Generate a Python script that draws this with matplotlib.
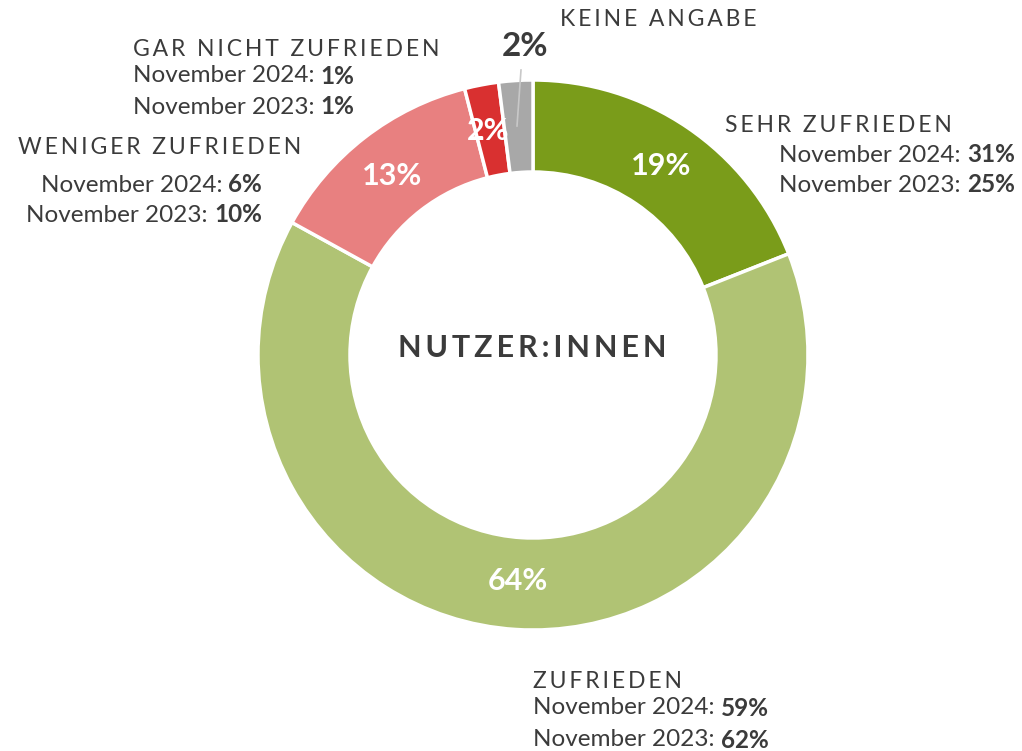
import matplotlib
matplotlib.use("Agg")
import matplotlib.pyplot as plt

categories = ["SEHR ZUFRIEDEN", "ZUFRIEDEN", "WENIGER ZUFRIEDEN", "GAR NICHT ZUFRIEDEN", "KEINE ANGABE"]
values = [19, 64, 13, 2, 2]
nov2024 = [31, 59, 6, 1, None]
nov2023 = [25, 62, 10, 1, None]
colors = ["#7a9c1a", "#b0c374", "#e88080", "#d93030", "#a8a8a8"]
center_label = "NUTZER:INNEN"

W, H = 1022, 751
fig = plt.figure(figsize=(W / 100, H / 100), dpi=100)
ax = fig.add_axes([0, 0, 1, 1])

FAM = ["Lato", "DejaVu Sans"]
DARK = "#3b3b3b"
cx, cy = 533, H - 355
R = 275
width = 92

wedges, _ = ax.pie(values, colors=colors, startangle=90, counterclock=False,
                   radius=R, center=(cx, cy),
                   wedgeprops=dict(width=width, edgecolor="white", linewidth=2.5),
                   frame=True)
ax.set_xlim(0, W)
ax.set_ylim(0, H)
ax.set_aspect("equal")
ax.axis("off")

def px(x, y):
    return x, H - y

def spaced(s, sp="\u2009"):
    return " ".join(sp.join(w) for w in s.split(" ")).replace(" ", sp + " " + sp)

# percentage labels inside
inside_pos = [(661, 166), (518, 581), (392, 176), (488, 131)]
for (x, y), v in zip(inside_pos, values[:4]):
    ax.text(*px(x, y), f"{v}%", color="white", fontsize=22, family=FAM,
            fontweight="bold", ha="center", va="center")

# keine angabe outside label with leader line
ax.text(*px(525, 47), f"{values[4]}%", color=DARK, fontsize=24, family=FAM,
        fontweight="bold", ha="center", va="center")
ax.plot(*zip(px(521, 70), px(517, 126)), color="#c8c8c8", lw=1.2)

# centre label
ax.text(*px(532, 348), spaced(center_label, "\u2009"), color=DARK, fontsize=22,
        family=FAM, fontweight="bold", ha="center", va="center")

fig.canvas.draw()
renderer = fig.canvas.get_renderer()

FS = 17.5

def mixed(x, y, label, val, align):
    if align == "left":
        t1 = ax.text(*px(x, y), label, color=DARK, fontsize=FS, family=FAM,
                     ha="left", va="center")
        bb = t1.get_window_extent(renderer)
        ax.text(bb.x1, H - y, f"{val}%", color=DARK, fontsize=FS, family=FAM,
                fontweight="bold", ha="left", va="center")
    else:
        t2 = ax.text(*px(x, y), f"{val}%", color=DARK, fontsize=FS, family=FAM,
                     fontweight="bold", ha="right", va="center")
        bb = t2.get_window_extent(renderer)
        ax.text(bb.x0, H - y, label, color=DARK, fontsize=FS, family=FAM,
                ha="right", va="center")

HFS = 16.5
layout = {
    0: dict(hx=725, hy=126, lx=1015, la="right", y1=155, y2=185),
    1: dict(hx=533, hy=682, lx=533, la="left", y1=708, y2=740),
    2: dict(hx=18, hy=147, lx=262, la="right", y1=185, y2=215),
    3: dict(hx=133, hy=50, lx=133, la="left", y1=76, y2=107),
}
for i, L in layout.items():
    ax.text(*px(L["hx"], L["hy"]), spaced(categories[i]), color=DARK, fontsize=HFS,
            family=FAM, ha="left", va="center")
    mixed(L["lx"], L["y1"], "November 2024: ", nov2024[i], L["la"])
    mixed(L["lx"], L["y2"], "November 2023: ", nov2023[i], L["la"])

ax.text(*px(560, 20), spaced(categories[4]), color=DARK, fontsize=HFS,
        family=FAM, ha="left", va="center")

fig.savefig("out.png", dpi=100)
